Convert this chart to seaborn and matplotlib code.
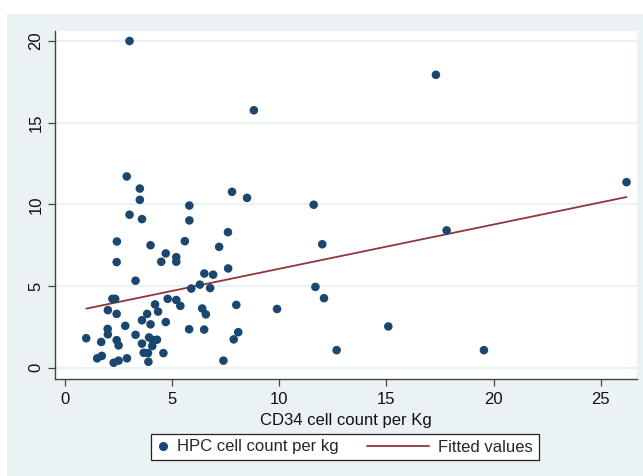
import matplotlib
matplotlib.use("Agg")
import matplotlib.pyplot as plt
from matplotlib.patches import Rectangle
from matplotlib.lines import Line2D
from matplotlib.legend_handler import HandlerBase
import seaborn as sns
import pandas as pd

cd34 = [3.02, 17.31, 8.82, 2.89, 3.50, 3.50, 3.02, 3.60, 2.43, 2.42,
        3.30, 4.00, 4.71, 4.50, 5.20, 5.20, 5.60, 5.81, 5.81, 7.80,
        8.50, 7.61, 7.20, 7.62, 6.51, 6.92, 6.30, 5.90, 6.78, 11.61,
        12.01, 17.81, 26.20, 11.69, 12.09, 9.90, 8.00, 15.09, 12.68, 19.55,
        7.40, 8.09, 7.88, 6.50, 5.80, 6.58, 6.41, 5.39, 5.20, 4.80,
        4.21, 4.35, 3.84, 3.60, 4.71, 4.00, 2.82, 2.01, 2.42, 2.22,
        2.35, 2.00, 2.01, 1.00, 1.70, 2.42, 2.51, 3.30, 3.93, 4.30,
        4.08, 3.60, 3.68, 3.88, 4.60, 3.90, 2.90, 2.51, 2.28, 1.73,
        1.51, 4.10]
hpc = [20.00, 17.93, 15.76, 11.71, 10.97, 10.28, 9.37, 9.10, 7.73, 6.47,
       5.33, 7.50, 7.00, 6.49, 6.77, 6.49, 7.75, 9.93, 9.02, 10.77,
       10.40, 8.30, 7.40, 6.08, 5.77, 5.70, 5.09, 4.85, 4.88, 9.98,
       7.56, 8.41, 11.36, 4.95, 4.26, 3.60, 3.85, 2.53, 1.08, 1.08,
       0.44, 2.18, 1.74, 2.34, 2.36, 3.27, 3.63, 3.79, 4.15, 4.22,
       3.88, 3.44, 3.30, 2.91, 2.80, 2.66, 2.57, 3.53, 3.30, 4.22,
       4.22, 2.38, 2.05, 1.81, 1.58, 1.69, 1.37, 2.02, 1.86, 1.72,
       1.33, 1.48, 0.92, 0.90, 0.90, 0.37, 0.58, 0.44, 0.31, 0.73,
       0.58, 1.70]

fit_x = [1.0, 26.2]
fit_y = [3.62, 10.45]

x_ticks = [0, 5, 10, 15, 20, 25]
y_ticks = [0, 5, 10, 15, 20]
x_label = "CD34 cell count per Kg"
legend_labels = ["HPC cell count per kg", "Fitted values"]

BG = "#EAF2F3"
DOT = "#1A476F"
FIT = "#90353B"
AXC = "#444444"

sns.set_style("white")
plt.rcParams["font.family"] = ["Liberation Sans", "DejaVu Sans"]

fig = plt.figure(figsize=(6.43, 4.76), dpi=100, facecolor="white")
W, H = 643, 476
fig.patches.append(Rectangle((7 / W, 0), 1 - 7 / W, 1 - 14 / H,
                             transform=fig.transFigure, facecolor=BG,
                             edgecolor="none", zorder=-10))

left, right, top, bottom = 54.5, 637, 30.7, 379
ax = fig.add_axes([left / W, 1 - bottom / H, (right - left) / W, (bottom - top) / H])
ax.set_facecolor("white")

df = pd.DataFrame({"cd34": cd34, "hpc": hpc})
fit_df = pd.DataFrame({"x": fit_x, "y": fit_y})

for yt in y_ticks:
    ax.axhline(yt, color=BG, lw=1.6, zorder=0)

sns.scatterplot(data=df, x="cd34", y="hpc", ax=ax, color=DOT, s=38,
                edgecolor="none", linewidth=0, zorder=3, legend=False)
sns.lineplot(data=fit_df, x="x", y="y", ax=ax, color=FIT, lw=1.3,
             zorder=2, legend=False)

ax.set_xlim(-0.48, 26.69)
ax.set_ylim(-0.685, 20.63)
ax.set_xticks(x_ticks)
ax.set_yticks(y_ticks)
ax.set_xticklabels([str(t) for t in x_ticks], fontsize=12, color="#111111")
ax.set_yticklabels([str(t) for t in y_ticks], fontsize=12, color="#111111",
                   rotation=90, va="center")
ax.tick_params(axis="x", direction="out", length=5, width=0.9, color=AXC,
               bottom=True, pad=4)
ax.tick_params(axis="y", direction="out", length=5, width=0.9, color=AXC,
               left=True, pad=3)
for s in ["top", "right"]:
    ax.spines[s].set_visible(False)
for s in ["left", "bottom"]:
    ax.spines[s].set_color(AXC)
    ax.spines[s].set_linewidth(1.0)
ax.set_xlabel(x_label, fontsize=12, color="#111111", labelpad=5)
ax.set_ylabel("")


class LongLineHandler(HandlerBase):
    """Line handle that reaches back into the column gap (Stata style)."""
    def create_artists(self, legend, orig_handle, xdescent, ydescent,
                       width, height, fontsize, trans):
        y = height / 2 - ydescent
        x1 = width - xdescent
        ln = Line2D([x1 - 46.3, x1 - 1.7], [y, y], color=orig_handle.get_color(),
                    lw=orig_handle.get_linewidth(), transform=trans)
        return [ln]


dot_handle = Line2D([], [], marker="o", ls="none", color=DOT, markersize=5.5)
line_handle = Line2D([], [], color=FIT, lw=1.3)
leg = fig.legend([dot_handle, line_handle], legend_labels, ncol=2, loc="center",
                 bbox_to_anchor=(345 / W, 1 - 447 / H), frameon=True,
                 fancybox=False, edgecolor="#222222", facecolor="white",
                 fontsize=12, handlelength=0.8, columnspacing=4.8,
                 handletextpad=0.4, borderpad=0.35, borderaxespad=0,
                 framealpha=1, handler_map={line_handle: LongLineHandler()})
leg.get_frame().set_linewidth(0.9)

fig.savefig("out.png", dpi=100, facecolor="white")
